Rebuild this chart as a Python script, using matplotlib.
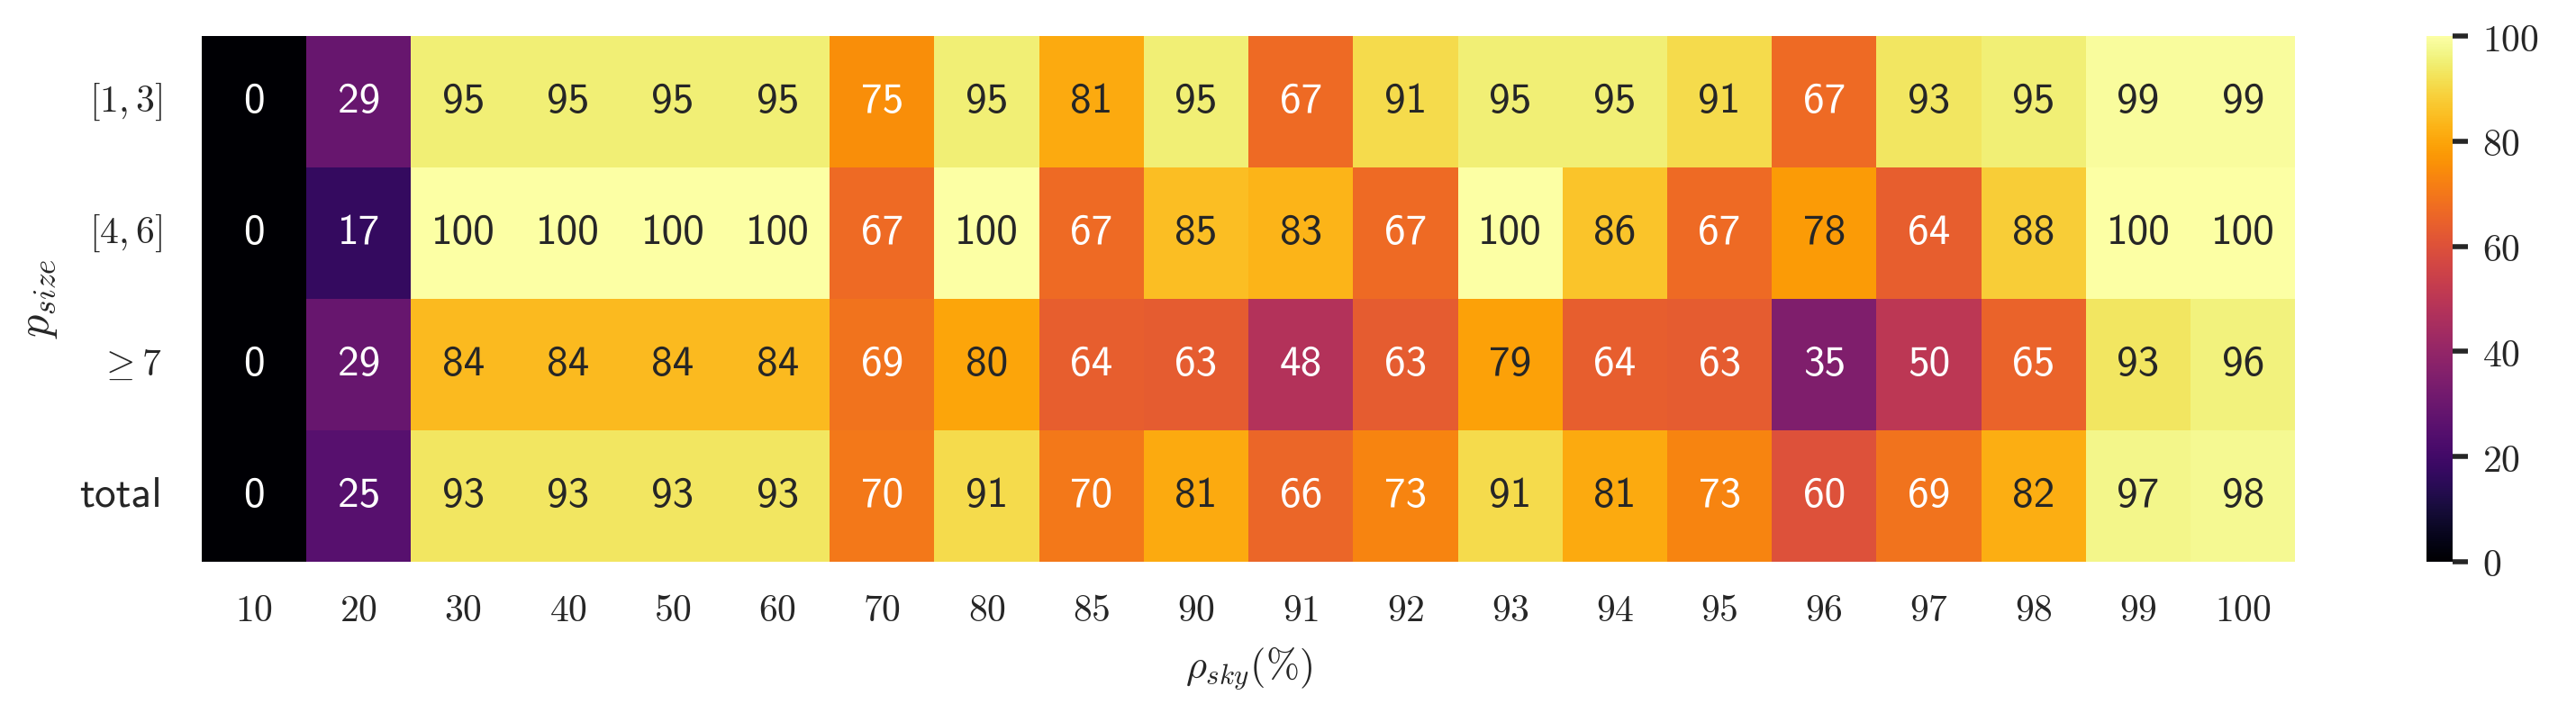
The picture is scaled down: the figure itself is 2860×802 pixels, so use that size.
import numpy as np
import matplotlib
matplotlib.use("Agg")
import matplotlib.pyplot as plt
import seaborn as sns

# sky ratio columns and size-bucket rows
rho_sky = [10, 20, 30, 40, 50, 60, 70, 80, 85, 90, 91, 92, 93, 94, 95, 96, 97, 98, 99, 100]
row_labels = [r"$[1,3]$", r"$[4,6]$", r"$\geq 7$", "total"]

size_1_3 = [0, 29, 95, 95, 95, 95, 75, 95, 81, 95, 67, 91, 95, 95, 91, 67, 93, 95, 99, 99]
size_4_6 = [0, 17, 100, 100, 100, 100, 67, 100, 67, 85, 83, 67, 100, 86, 67, 78, 64, 88, 100, 100]
size_7_up = [0, 29, 84, 84, 84, 84, 69, 80, 64, 63, 48, 63, 79, 64, 63, 35, 50, 65, 93, 96]
size_total = [0, 25, 93, 93, 93, 93, 70, 91, 70, 81, 66, 73, 91, 81, 73, 60, 69, 82, 97, 98]

sns.set_style("white")
plt.rcParams["mathtext.fontset"] = "cm"
plt.rcParams["font.family"] = ["DejaVu Serif"]
plt.rcParams["text.color"] = "#262626"
plt.rcParams["xtick.color"] = "#262626"
plt.rcParams["ytick.color"] = "#262626"

data = np.array([size_1_3, size_4_6, size_7_up, size_total])

fig = plt.figure(figsize=(14.3, 4.01), dpi=200)
ax = fig.add_axes([0.0783, 0.222, 0.8127, 0.728])
cax = fig.add_axes([0.942, 0.222, 0.0101, 0.728])

sns.heatmap(data, ax=ax, cbar_ax=cax, cmap="inferno", vmin=0, vmax=100,
            annot=True, fmt="d", annot_kws={"fontsize": 17, "family": "cmss10"},
            xticklabels=[r"$%d$" % v for v in rho_sky],
            yticklabels=row_labels)

ax.tick_params(axis="both", length=0, labelsize=15)
ax.tick_params(axis="x", pad=12)
ax.tick_params(axis="y", pad=16)
ax.set_yticklabels(row_labels, rotation=0)
total_lbl = ax.get_yticklabels()[3]
total_lbl.set_family("cmss10")
total_lbl.set_fontsize(17)
ax.set_xticklabels([r"$%d$" % v for v in rho_sky], rotation=0)
ax.set_xlabel(r"$\rho_{sky}(\%)$", fontsize=16, labelpad=6)
ax.set_ylabel(r"$p_{size}$", fontsize=18, labelpad=8)

cax.tick_params(length=6, width=2, labelsize=15, pad=6)
cax.set_yticks([0, 20, 40, 60, 80, 100])
cax.set_yticklabels([r"$%d$" % v for v in [0, 20, 40, 60, 80, 100]])

fig.savefig("out.png", dpi=200)
